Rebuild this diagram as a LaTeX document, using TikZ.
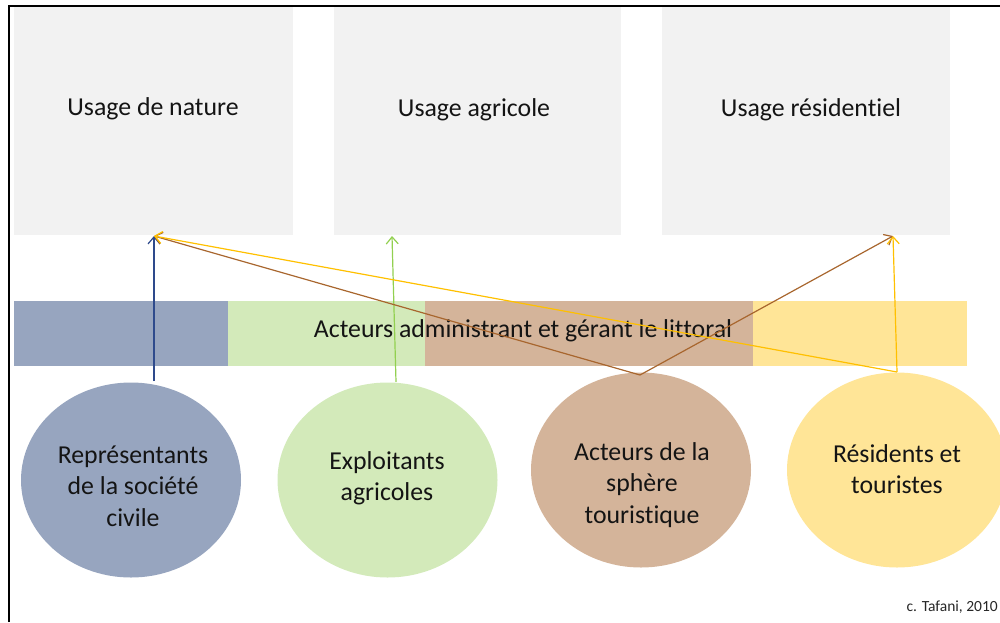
\documentclass[tikz,border=0pt]{standalone}
\usepackage{fontspec}
\setmainfont{Carlito}[Ligatures={NoCommon,NoContextual}]
\usetikzlibrary{shapes.geometric,arrows.meta}
\definecolor{boxgray}{HTML}{F2F2F2}
\definecolor{fblue}{HTML}{97A5BF}
\definecolor{fgreen}{HTML}{D3EABA}
\definecolor{fbrown}{HTML}{D4B49A}
\definecolor{fyellow}{HTML}{FFE597}
\definecolor{lblue}{HTML}{2E4A8C}
\definecolor{lgreen}{HTML}{92D050}
\definecolor{lbrown}{HTML}{A8662E}
\definecolor{lyellow}{HTML}{FFC000}
\tikzset{
  usebox/.style={fill=boxgray, draw=none, inner sep=0pt, anchor=north west},
  barseg/.style={draw=none, inner sep=0pt, anchor=north west, minimum height=65pt},
  actor/.style={ellipse, draw=none, inner sep=0pt, minimum width=220pt, minimum height=195pt},
  txt/.style={font=\fontsize{25.8}{31.5}\selectfont, align=center, inner sep=0pt, text=black!92},
  link/.style={line width=1.2pt, -{Straight Barb[length=7pt,width=12pt]}},
}
\begin{document}
\begin{tikzpicture}[x=1pt,y=-1pt]
\useasboundingbox (0,0) rectangle (1000,622);
% frame
\draw[line width=2.2pt] (9,622) -- (9,6) -- (1000,6);
% usage boxes
\node[usebox, minimum width=279pt, minimum height=228pt] (b1) at (14,7) {};
\node[usebox, minimum width=287pt, minimum height=228pt] (b2) at (334,7) {};
\node[usebox, minimum width=288pt, minimum height=228pt] (b3) at (662,7) {};
\node[txt] (tb1) at (153,109) {Usage de nature};
\node[txt] (tb2) at (474,110) {Usage agricole};
\node[txt] (tb3) at (811,110) {Usage résidentiel};
% bar
\node[barseg, fill=fblue, minimum width=214pt] (s1) at (14,301) {};
\node[barseg, fill=fgreen, minimum width=197pt] (s2) at (227.5,301) {};
\node[barseg, fill=fbrown, minimum width=328.5pt] (s3) at (424.5,301) {};
\node[barseg, fill=fyellow, minimum width=214pt] (s4) at (752.8,301) {};
\node[txt] (tbar) at (523,331) {Acteurs administrant et gérant le littoral};
% actors
\node[actor, fill=fblue] (e1) at (131,480) {};
\node[actor, fill=fgreen] (e2) at (387.5,480) {};
\node[actor, fill=fbrown] (e3) at (641,470) {};
\node[actor, fill=fyellow] (e4) at (897,470) {};
\node[txt] (te1) at (133,486) {Représentants\\de la société\\civile};
\node[txt] (te2) at (387,478) {Exploitants\\agricoles};
\node[txt] (te3) at (642,485) {Acteurs de la\\sphère\\touristique};
\node[txt] (te4) at (897,469) {Résidents et\\touristes};
% credit
\node[font=\fontsize{15.5}{18}\selectfont, anchor=east, inner sep=0pt, text=black!85] (credit) at (998,607) {c. Tafani, 2010};
% anchor coordinates
\coordinate (n1) at (154,236);
\coordinate (n2) at (392,236);
\coordinate (n3) at (893,236);
\coordinate (a1) at (154,381);
\coordinate (a2) at (396,382);
\coordinate (a3) at (640,375);
\coordinate (a4) at (897,372);
% links
\draw[link, lblue] (a1) -- (n1);
\draw[link, lgreen] (a2) -- (n2);
\draw[link, lbrown] (a3) -- (n1);
\draw[link, lbrown] (a3) -- (n3);
\draw[link, lyellow] (a4) -- (n3);
\draw[link, lyellow] (a4) -- (n1);
\end{tikzpicture}
\end{document}
